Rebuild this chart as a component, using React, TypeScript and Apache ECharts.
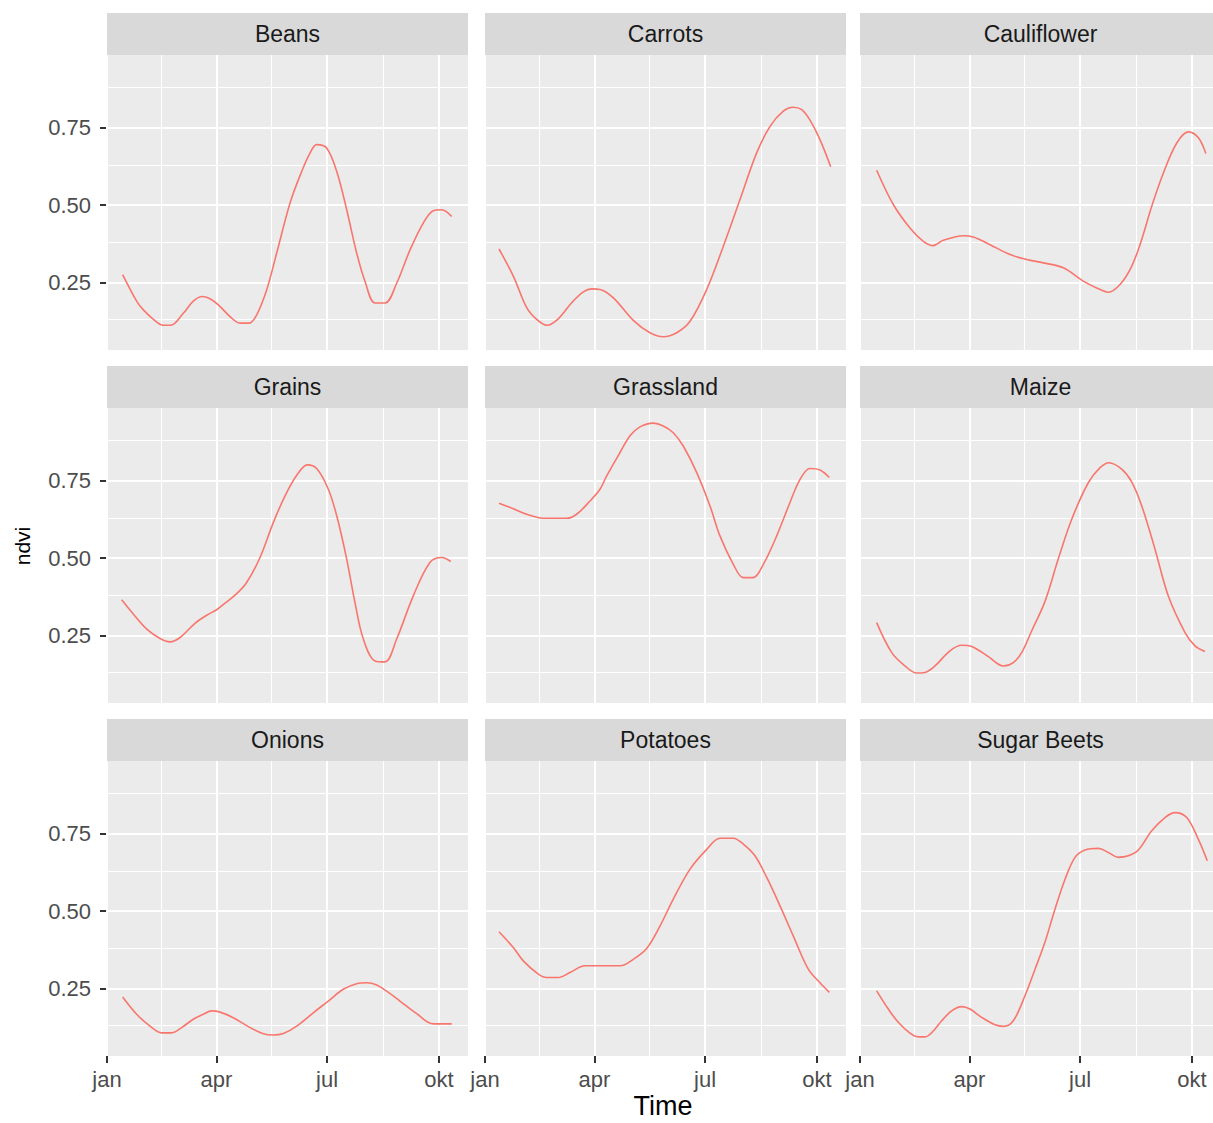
import React, { useEffect, useRef } from "react";
import * as echarts from "echarts";

// ---- data: [day of year, ndvi] ----
const crops = ["Beans", "Carrots", "Cauliflower", "Grains", "Grassland", "Maize", "Onions", "Potatoes", "Sugar Beets"];

const beans = [[12.9,0.275],[24.4,0.189],[29.9,0.161],[40.9,0.121],[46.3,0.111],[52.4,0.111],[62.8,0.150],[71.0,0.189],[78.4,0.204],[84.7,0.197],[91.6,0.177],[102.6,0.134],[109.4,0.118],[117.1,0.118],[123.2,0.145],[131.4,0.226],[139.6,0.345],[150.6,0.507],[160.2,0.609],[167.0,0.668],[172.5,0.696],[180.7,0.685],[189.0,0.609],[197.2,0.485],[205.4,0.345],[212.3,0.253],[220.5,0.183],[228.7,0.183],[238.3,0.247],[249.3,0.355],[260.2,0.442],[268.5,0.482],[275.4,0.485],[283.6,0.463]];
const carrots = [[11.5,0.358],[23.3,0.270],[34.3,0.168],[42.5,0.130],[50.8,0.111],[60.3,0.132],[71.3,0.184],[80.9,0.219],[87.8,0.229],[94.6,0.227],[105.6,0.200],[122.0,0.127],[135.7,0.087],[146.7,0.074],[157.7,0.087],[168.7,0.124],[182.4,0.227],[196.1,0.367],[209.8,0.518],[223.5,0.669],[234.5,0.755],[245.4,0.804],[253.6,0.817],[260.6,0.809],[267.4,0.775],[275.6,0.712],[284.4,0.624]];
const cauliflower = [[13.7,0.613],[27.4,0.502],[41.1,0.426],[52.1,0.383],[60.3,0.369],[68.5,0.386],[85.0,0.401],[93.2,0.397],[107.0,0.372],[123.4,0.340],[137.1,0.324],[150.8,0.313],[167.3,0.297],[183.7,0.254],[194.7,0.232],[204.3,0.218],[213.9,0.243],[223.5,0.302],[231.8,0.389],[240.0,0.496],[249.6,0.604],[260.6,0.701],[270.2,0.737],[278.4,0.718],[284.5,0.667]];
const grains = [[12.1,0.365],[21.6,0.319],[32.7,0.270],[43.6,0.240],[51.8,0.229],[60.1,0.243],[72.4,0.289],[82.0,0.315],[90.2,0.333],[97.1,0.354],[106.7,0.385],[114.9,0.421],[125.9,0.502],[136.8,0.615],[146.4,0.701],[156.1,0.768],[164.8,0.802],[172.5,0.790],[182.1,0.723],[189.0,0.637],[197.2,0.497],[204.0,0.356],[210.9,0.238],[220.5,0.167],[228.7,0.164],[238.3,0.238],[252.0,0.378],[265.7,0.486],[275.4,0.502],[282.8,0.489]];
const grassland = [[11.5,0.678],[23.3,0.660],[34.3,0.642],[48.0,0.629],[67.2,0.629],[75.4,0.642],[86.4,0.685],[94.6,0.723],[100.1,0.766],[111.1,0.842],[119.3,0.896],[127.5,0.925],[138.5,0.937],[146.7,0.928],[154.9,0.906],[163.1,0.863],[174.2,0.777],[185.1,0.669],[193.3,0.572],[204.3,0.480],[212.5,0.437],[220.7,0.437],[229.0,0.480],[240.0,0.572],[250.9,0.680],[259.2,0.755],[267.4,0.790],[275.6,0.785],[283.3,0.761]];
const maize = [[13.7,0.291],[26.1,0.194],[37.0,0.151],[46.6,0.128],[53.5,0.130],[61.7,0.151],[74.0,0.200],[83.7,0.218],[91.9,0.214],[105.6,0.181],[117.9,0.151],[126.1,0.162],[133.0,0.194],[141.3,0.265],[152.2,0.360],[163.1,0.497],[174.2,0.626],[187.8,0.744],[197.5,0.793],[204.9,0.809],[215.3,0.788],[223.5,0.747],[231.8,0.669],[242.7,0.529],[253.6,0.378],[267.4,0.259],[275.6,0.216],[283.8,0.198]];
const onions = [[12.9,0.222],[24.4,0.166],[35.4,0.128],[45.0,0.106],[53.2,0.106],[61.4,0.123],[71.0,0.150],[79.2,0.166],[86.1,0.177],[93.0,0.173],[103.9,0.155],[117.7,0.123],[128.6,0.103],[136.8,0.099],[145.1,0.104],[156.1,0.128],[169.7,0.171],[182.1,0.209],[194.4,0.247],[205.4,0.265],[213.7,0.268],[221.9,0.261],[230.1,0.241],[241.0,0.209],[254.8,0.168],[268.5,0.135],[283.6,0.135]];
const potatoes = [[11.5,0.433],[23.3,0.382],[31.5,0.339],[43.9,0.296],[50.8,0.285],[60.3,0.285],[69.9,0.301],[82.3,0.323],[89.1,0.323],[111.1,0.323],[122.0,0.344],[133.0,0.379],[144.0,0.452],[154.9,0.539],[168.7,0.636],[182.4,0.700],[193.3,0.736],[204.3,0.736],[212.5,0.717],[222.1,0.679],[231.8,0.609],[242.7,0.517],[253.6,0.420],[266.0,0.312],[275.6,0.268],[283.3,0.237]];
const sugarBeets = [[13.7,0.242],[23.3,0.183],[31.5,0.140],[41.1,0.105],[48.0,0.093],[53.5,0.093],[60.3,0.112],[67.2,0.145],[75.4,0.177],[83.7,0.191],[90.5,0.183],[100.1,0.156],[111.1,0.132],[117.9,0.127],[126.1,0.145],[135.7,0.226],[144.0,0.312],[152.2,0.400],[160.4,0.506],[168.7,0.603],[176.9,0.674],[185.1,0.698],[196.1,0.703],[204.3,0.690],[212.5,0.674],[220.7,0.679],[229.0,0.698],[240.0,0.760],[250.9,0.803],[259.2,0.819],[268.8,0.803],[278.3,0.733],[285.7,0.663]];

const cropData = [beans, carrots, cauliflower, grains, grassland, maize, onions, potatoes, sugarBeets];

// ---- axes ----
const monthDays = [0, 90, 181, 273];
const monthLabels = ["jan", "apr", "jul", "okt"];
const minorDays = [45, 135.5, 227];
const yTicks = [0.25, 0.5, 0.75];
const yMinorTicks = [0.125, 0.375, 0.625, 0.875];
const xMin = 0;
const xMax = 297;
const yMin = 0.031;
const yMax = 0.986;

// ---- layout ----
const colLeft = [107, 485, 860];
const rowTop = [55, 408, 761];
const panelW = 361;
const panelH = 295;
const stripH = 42;
const FONT = "Liberation Sans, Arial, sans-serif";

export default function App() {
  const ref = useRef<HTMLDivElement>(null);
  useEffect(() => {
    if (!ref.current) return;
    const chart = echarts.init(ref.current, null, { renderer: "svg" });
    const grids: any[] = [];
    const xAxes: any[] = [];
    const yAxes: any[] = [];
    const series: any[] = [];
    const graphics: any[] = [];

    const gridLines = [
      ...monthDays.map((v) => ({ xAxis: v, lineStyle: { width: 2 } })),
      ...minorDays.map((v) => ({ xAxis: v, lineStyle: { width: 1.1 } })),
      ...yTicks.map((v) => ({ yAxis: v, lineStyle: { width: 2 } })),
      ...yMinorTicks.map((v) => ({ yAxis: v, lineStyle: { width: 1.1 } })),
    ];

    crops.forEach((name, i) => {
      const row = Math.floor(i / 3);
      const col = i % 3;
      const left = colLeft[col];
      const top = rowTop[row];
      grids.push({
        left,
        top,
        width: panelW,
        height: panelH,
        show: true,
        backgroundColor: "#EBEBEB",
        borderWidth: 0,
      });
      const bottomRow = row === 2;
      const leftCol = col === 0;
      xAxes.push({
        type: "value",
        gridIndex: i,
        min: xMin,
        max: xMax,
        axisLine: { show: false },
        splitLine: { show: false },
        axisTick: {
          show: bottomRow,
          customValues: monthDays,
          length: 7,
          lineStyle: { color: "#333333", width: 2 },
        },
        axisLabel: {
          show: bottomRow,
          customValues: monthDays,
          margin: 12,
          color: "#4D4D4D",
          fontSize: 22,
          fontFamily: FONT,
          formatter: (v: number) => {
            const k = monthDays.indexOf(Math.round(v));
            return k >= 0 ? monthLabels[k] : "";
          },
        },
      });
      yAxes.push({
        type: "value",
        gridIndex: i,
        min: yMin,
        max: yMax,
        axisLine: { show: false },
        splitLine: { show: false },
        axisTick: {
          show: leftCol,
          customValues: yTicks,
          length: 7,
          lineStyle: { color: "#333333", width: 2 },
        },
        axisLabel: {
          show: leftCol,
          customValues: yTicks,
          margin: 16,
          color: "#4D4D4D",
          fontSize: 22,
          fontFamily: FONT,
          formatter: (v: number) => v.toFixed(2),
        },
      });
      series.push({
        type: "line",
        name,
        xAxisIndex: i,
        yAxisIndex: i,
        data: cropData[i],
        showSymbol: false,
        smooth: 0.35,
        z: 3,
        lineStyle: { color: "#F8766D", width: 1.6 },
        itemStyle: { color: "#F8766D" },
        markLine: {
          z: 1,
          silent: true,
          animation: false,
          symbol: ["none", "none"],
          label: { show: false },
          emphasis: { disabled: true },
          lineStyle: { color: "#FFFFFF", type: "solid", width: 2 },
          data: gridLines,
        },
      });
      graphics.push({
        type: "rect",
        shape: { x: left, y: top - stripH, width: panelW, height: stripH },
        style: { fill: "#D9D9D9" },
        z: 0,
      });
      graphics.push({
        type: "text",
        x: left + panelW / 2,
        y: top - stripH / 2,
        style: {
          text: name,
          fill: "#1A1A1A",
          fontSize: 23,
          fontFamily: FONT,
          align: "center",
          verticalAlign: "middle",
          textAlign: "center",
          textVerticalAlign: "middle",
        },
      });
    });

    graphics.push({
      type: "text",
      x: 663,
      y: 1106,
      style: {
        text: "Time",
        fill: "#000000",
        fontSize: 27,
        fontFamily: FONT,
        align: "center",
        verticalAlign: "middle",
        textAlign: "center",
        textVerticalAlign: "middle",
      },
    });
    graphics.push({
      type: "text",
      x: 22,
      y: 546,
      rotation: Math.PI / 2,
      style: {
        text: "ndvi",
        fill: "#000000",
        fontSize: 21,
        fontFamily: FONT,
        align: "center",
        verticalAlign: "middle",
        textAlign: "center",
        textVerticalAlign: "middle",
      },
    });

    chart.setOption({
      animation: false,
      backgroundColor: "#FFFFFF",
      grid: grids,
      xAxis: xAxes,
      yAxis: yAxes,
      series,
      graphic: { elements: graphics },
    });
    return () => chart.dispose();
  }, []);

  return (
    <div
      style={{
        position: "absolute",
        left: 0,
        top: 0,
        width: 1213,
        height: 1123,
        overflow: "hidden",
      }}
    >
      <div ref={ref} style={{ width: 1240, height: 1123 }} />
    </div>
  );
}
